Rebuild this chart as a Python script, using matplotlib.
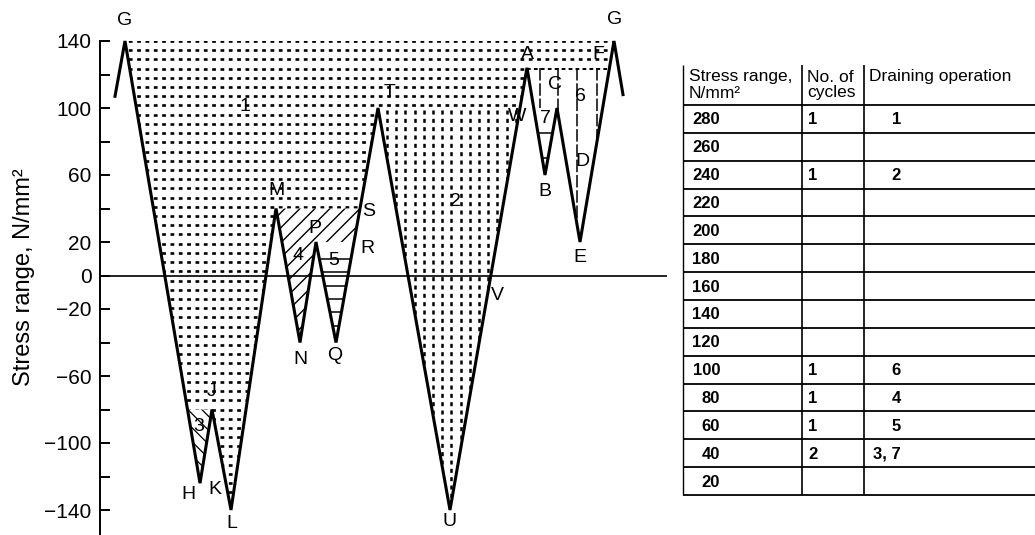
import numpy as np
import matplotlib
matplotlib.use("Agg")
import matplotlib.pyplot as plt
from matplotlib.patches import Polygon
from matplotlib.collections import LineCollection

plt.rcParams['font.family'] = ['Liberation Sans', 'DejaVu Sans']
plt.rcParams['lines.scale_dashes'] = False

# ---- stress history (reversal points) ----
t_rev = [15, 25, 100, 112, 131, 176, 200, 216, 236, 278, 350, 427, 445, 457, 480, 514, 523]
s_rev = [107, 140, -124, -80, -140, 40, -40, 20, -40, 100, -140, 124, 60, 100, 20, 140, 108]
rev_names = ['', 'G', 'H', 'J', 'L', 'M', 'N', 'P', 'Q', 'T', 'U', 'A', 'B', 'C', 'E', 'G2', '']

# ---- cycle counting table ----
table_ranges = [280, 260, 240, 220, 200, 180, 160, 140, 120, 100, 80, 60, 40, 20]
table_cycles = ['1', '', '1', '', '', '', '', '', '', '1', '1', '1', '2', '']
table_ops = ['1', '', '2', '', '', '', '', '', '', '6', '4', '5', '3, 7', '']

# ---- annotation letters (text, time, stress) ----
letters = [
    ('G', 25, 152), ('G', 515, 153), ('H', 88, -131), ('J', 112, -69), ('K', 115, -128),
    ('L', 132, -148), ('M', 177, 51), ('N', 200, -50), ('P', 215, 28), ('Q', 235, -48),
    ('S', 269, 38), ('R', 267, 16), ('T', 290, 109), ('U', 350, -147), ('V', 397, -12),
    ('W', 417, 95), ('A', 427, 132), ('C', 455, 114), ('B', 445, 50), ('D', 482, 68),
    ('E', 480, 11), ('F', 498, 132),
]
op_labels = [
    ('1', 145, 101), ('2', 355, 44), ('3', 99, -90), ('4', 198, 12), ('5', 234, 9),
    ('6', 480, 107), ('7', 445, 94),
]

SX, SY = 1.0, 1.675      # pixels per unit on each axis

pt = {n: (t, s) for n, t, s in zip(rev_names, t_rev, s_rev) if n}


def cross(a, b, level):
    (t0, s0), (t1, s1) = pt[a], pt[b]
    return (t0 + (level - s0) * (t1 - t0) / (s1 - s0), level)


fig = plt.figure(figsize=(10.35, 5.35), dpi=100)
ax = fig.add_axes([100 / 1035, 0, 567 / 1035, 1])
ax.set_xlim(0, 567)
ax.set_ylim(-140 - 25 / SY, 140 + 41 / SY)
ax.patch.set_alpha(0)


def region(pts, z, white=True):
    p = Polygon(pts, closed=True, facecolor='white' if white else 'none',
                edgecolor='none', zorder=z)
    ax.add_patch(p)
    return p


def add_lines(segs, clip, z, lw, ls='-'):
    lc = LineCollection(segs, colors='black', linewidths=lw, linestyles=[ls], zorder=z,
                        capstyle='butt')
    lc.set_clip_path(clip)
    ax.add_collection(lc)


def hrows(levels, x0, x1):
    return [[(x0, y), (x1, y)] for y in levels]


def diag(pts, spacing_px, sign):
    xs = [p[0] for p in pts]
    ys = [p[1] for p in pts]
    x0, x1 = min(xs) - 5, max(xs) + 5
    y0, y1 = min(ys) * SY, max(ys) * SY
    segs = []
    span = (x1 - x0) + (y1 - y0)
    for c in np.arange(-span - 400, span + 400, spacing_px):
        # line in pixel space: y_px = sign * x_px + c
        segs.append([(x0, (sign * x0 + c) / SY), (x1, (sign * x1 + c) / SY)])
    return segs


# region 1: whole reservoir below the G level
r1_pts = list(zip(t_rev[1:16], s_rev[1:16]))
p1 = region(r1_pts, 1, white=False)
add_lines(hrows(np.arange(140, -141, -5.5), 20, 520), p1, 1.5, 1.9, (0, (2.7, 3.3)))

# region 2: valley T-U-W
W = cross('U', 'A', pt['T'][1])
r2 = [pt['T'], pt['U'], W]
p2 = region(r2, 2)
cols = np.arange(pt['T'][0] + 9, W[0] + 1, 9.2)
add_lines([[(x, 99), (x, -141)] for x in cols], p2, 2.5, 1.8, (0, (2.9, 3.1)))

# region 3: small valley H below J
X3 = cross('G', 'H', pt['J'][1])
r3 = [X3, pt['H'], pt['J']]
p3 = region(r3, 2)
add_lines(diag(r3, 14, -1), p3, 2.5, 0.9)

# region 4: M level down to N, above P level elsewhere
R = cross('Q', 'T', pt['P'][1])
S = cross('Q', 'T', pt['M'][1])
r4 = [pt['M'], pt['N'], pt['P'], R, S]
p4 = region(r4, 2)
add_lines(diag(r4, 15, 1), p4, 2.5, 1.0)

# region 5: valley P-Q-R
r5 = [pt['P'], pt['Q'], R]
p5 = region(r5, 2)
add_lines(hrows(np.arange(10, -41, -8), 200, 260), p5, 2.5, 1.1)

# region 6: A level down to E
Bp = cross('A', 'B', pt['C'][1])
F = cross('E', 'G2', pt['A'][1])
r6 = [pt['A'], Bp, pt['C'], pt['E'], F]
p6 = region(r6, 2)
add_lines(hrows([pt['A'][1] - 0.5], 420, 510), p6, 2.5, 1.4, (0, (2.7, 2.3)))
add_lines([[(x, pt['A'][1]), (x, -10)] for x in (440, 458, 477, 497)], p6, 2.5, 1.1,
          (0, (9.0, 2.0)))

# region 7: valley B below C
r7 = [Bp, pt['B'], pt['C']]
p7 = region(r7, 2)
add_lines(hrows([85, 70], 430, 460), p7, 2.5, 1.1)

# stress history
ax.plot(t_rev, s_rev, color='black', lw=2.2, zorder=5, solid_joinstyle='miter')
ax.axhline(0, color='black', lw=1.2, zorder=4)

# axis styling
for side in ('top', 'right', 'bottom'):
    ax.spines[side].set_visible(False)
ax.spines['left'].set_linewidth(1.4)
ax.spines['left'].set_bounds(-160, 140)
ax.set_xticks([])
labelled = {140, 100, 60, 20, 0, -20, -60, -100, -140}
ticks = list(range(-140, 141, 20))
ax.set_yticks(ticks)
ax.set_yticklabels([str(v).replace('-', '\u2212') if v in labelled else '' for v in ticks])
ax.tick_params(axis='y', direction='in', length=7, width=1.4, pad=6, labelsize=15)

fig.text(24 / 1035, 1 - 277 / 535, 'Stress range, N/mm\u00b2', rotation=90,
         ha='center', va='center', fontsize=17)

for txt, x, y in letters + op_labels:
    ax.text(x, y, txt, ha='center', va='center', fontsize=14, zorder=6)

# ---- table ----
tax = fig.add_axes([0, 0, 1, 1])
tax.set_xlim(0, 1035)
tax.set_ylim(535, 0)
tax.axis('off')

row_y = np.linspace(105, 495, len(table_ranges) + 1)
tax.vlines([683], 65, 495, color='black', lw=1.0)
tax.vlines([802, 864], 65, 495, color='black', lw=1.2)
tax.hlines(row_y, 683, 1035, color='black', lw=1.3)

tax.text(689, 77, 'Stress range,', ha='left', va='center', fontsize=12.5)
tax.text(689, 93, 'N/mm\u00b2', ha='left', va='center', fontsize=12.5)
tax.text(807, 77, 'No. of', ha='left', va='center', fontsize=12.5)
tax.text(807, 93, 'cycles', ha='left', va='center', fontsize=12.5)
tax.text(869, 77, 'Draining operation', ha='left', va='center', fontsize=12.5)

for i, (rng, cyc, op) in enumerate(zip(table_ranges, table_cycles, table_ops)):
    yc = (row_y[i] + row_y[i + 1]) / 2 + 1
    tax.text(720, yc, str(rng), ha='right', va='center', fontsize=12, fontweight='bold')
    if cyc:
        tax.text(808, yc, cyc, ha='left', va='center', fontsize=12, fontweight='bold')
    if op:
        tax.text(901, yc, op, ha='right', va='center', fontsize=12, fontweight='bold')

fig.savefig('out.png', dpi=100)
